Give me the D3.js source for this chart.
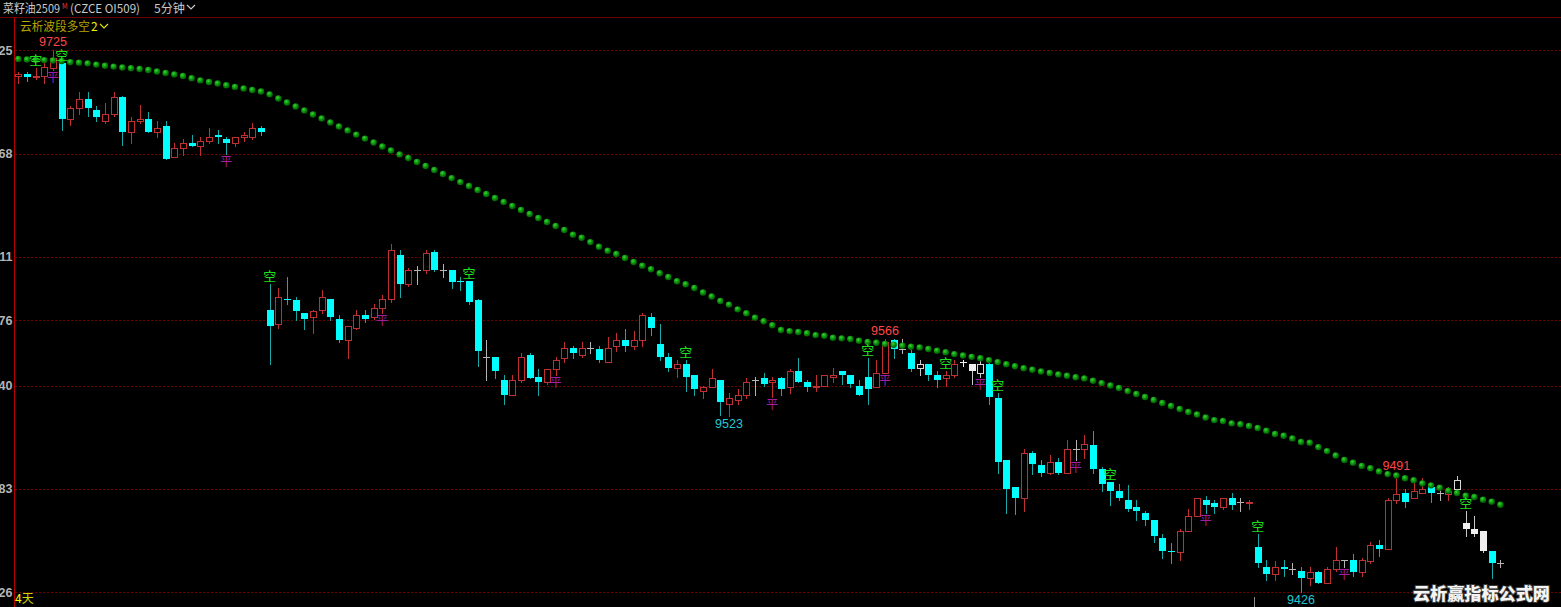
<!DOCTYPE html>
<html><head><meta charset="utf-8">
<script src="https://cdn.jsdelivr.net/npm/d3@7"></script>
<style>html,body{margin:0;padding:0;background:#000;overflow:hidden}</style>
</head><body>
<svg id="c" width="1561" height="607"></svg>
<script>
// ---- data ----
const openP = [9711,9712,9710,9711,9715,9718,9687,9693,9698,9692,9686,9690,9699,9680,9686,9687,9680,9683,9666,9671,9674,9672,9675,9678,9676,9674,9677,9677,9682,
9582,9574,9588,9587,9580,9578,9582,9588,9577,9565,9572,9579,9578,9583,9588,9612,9596,9604,9604,9614,9604,9604,9598,9598,9587,9556,9556,9543,9535,9543,9557,
9545,9542,9549,9555,9561,9557,9561,9560,9553,9562,9565,9562,9565,9578,9563,9556,9550,9552,9546,9537,9539,9543,9530,9532,9535,9543,9544,9542,9544,9539,
9548,9542,9539,9540,9545,9548,9546,9540,9545,9539,9547,9565,9560,9558,9550,9552,9546,9544,9546,9553,9552,9547,9552,9533,9499,9484,9478,9503,9496,9492,
9498,9492,9505,9505,9507,9494,9487,9482,9477,9473,9470,9466,9456,9449,9448,9460,9468,9477,9475,9473,9478,9476,9475,9451,9440,9436,9440,9439,9438,9434,
9437,9431,9439,9444,9444,9437,9443,9452,9450,9477,9481,9478,9481,9484,9481,9480,9483,9464,9461,9460,9449,9442];
const highP = [9713,9713,9715,9718,9725,9718,9694,9702,9702,9694,9696,9702,9700,9688,9695,9691,9686,9686,9674,9676,9678,9677,9682,9681,9677,9677,9680,9685,9683,
9596,9594,9600,9589,9580,9582,9593,9588,9579,9573,9582,9582,9585,9590,9618,9615,9605,9606,9615,9615,9607,9604,9600,9598,9588,9565,9556,9546,9546,9558,9558,
9549,9549,9556,9564,9562,9564,9564,9562,9567,9569,9571,9570,9580,9580,9574,9558,9554,9554,9546,9540,9549,9543,9536,9538,9544,9545,9547,9545,9545,9549,
9555,9543,9546,9546,9550,9548,9546,9543,9555,9554,9566,9566,9566,9560,9554,9552,9548,9548,9554,9554,9552,9554,9553,9536,9499,9484,9505,9504,9499,9502,
9500,9510,9510,9513,9515,9495,9487,9486,9485,9477,9471,9466,9458,9453,9461,9472,9478,9479,9477,9478,9481,9478,9477,9458,9444,9443,9444,9442,9440,9440,
9438,9440,9451,9444,9447,9445,9454,9455,9478,9491,9483,9489,9489,9486,9483,9484,9490,9471,9468,9460,9449,9444];
const lowP = [9707,9708,9709,9707,9714,9681,9684,9690,9689,9686,9685,9689,9673,9674,9685,9680,9677,9665,9666,9667,9672,9667,9674,9674,9668,9672,9675,9676,9678,
9552,9572,9585,9576,9571,9569,9580,9576,9564,9555,9571,9575,9577,9580,9586,9589,9595,9596,9602,9603,9600,9594,9593,9585,9551,9543,9544,9530,9535,9542,9544,
9535,9541,9546,9553,9555,9556,9558,9553,9553,9559,9559,9560,9562,9568,9554,9548,9545,9537,9535,9533,9539,9524,9523,9530,9533,9535,9540,9534,9535,9536,
9542,9537,9537,9540,9542,9541,9539,9535,9530,9539,9547,9555,9558,9548,9546,9543,9539,9540,9545,9551,9541,9545,9530,9492,9470,9469,9471,9491,9490,9491,
9491,9492,9499,9500,9492,9482,9474,9477,9471,9466,9463,9454,9445,9442,9444,9460,9468,9470,9470,9472,9472,9471,9472,9440,9433,9433,9435,9436,9426,9430,
9431,9431,9438,9440,9435,9435,9442,9446,9450,9475,9473,9478,9481,9476,9477,9477,9480,9457,9457,9448,9434,9440];
const closeP = [9712,9710,9711,9716,9721,9687,9693,9698,9693,9688,9690,9699,9680,9686,9687,9680,9682,9665,9671,9674,9672,9675,9677,9677,9674,9677,9678,9682,9680,
9573,9589,9587,9581,9577,9581,9589,9578,9565,9573,9579,9577,9583,9588,9615,9596,9604,9604,9613,9604,9604,9597,9597,9586,9559,9556,9548,9535,9543,9556,9544,
9542,9549,9554,9561,9558,9561,9561,9554,9561,9565,9562,9565,9579,9572,9556,9550,9552,9545,9538,9539,9544,9531,9533,9535,9542,9543,9541,9543,9538,9548,
9542,9539,9540,9546,9546,9546,9541,9535,9538,9547,9564,9560,9560,9549,9552,9546,9543,9546,9552,9553,9548,9552,9534,9498,9483,9478,9503,9497,9492,9498,
9492,9505,9505,9508,9494,9486,9482,9478,9472,9471,9466,9457,9449,9448,9460,9468,9478,9474,9473,9478,9474,9476,9476,9442,9436,9440,9439,9439,9434,9437,
9431,9439,9444,9444,9437,9444,9452,9450,9477,9480,9476,9482,9483,9481,9481,9482,9488,9461,9458,9449,9442,9442];
// wave line (green dots), one value per bar
const waveP = [9720.2,9719.9,9719.6,9719.6,9719.4,9719.1,9718.5,9718.2,9717.8,9717.1,9716.5,9716.0,9715.5,9715.1,9714.7,9714.1,9713.3,9712.5,9711.7,9710.8,
9709.6,9708.4,9707.5,9706.7,9705.7,9704.8,9703.9,9703.1,9702.3,9700.7,
9698.4,9696.2,9694.0,9691.8,9689.6,9687.4,9685.2,9683.0,9680.8,9678.5,9676.3,9674.1,9671.9,9669.7,9667.5,9665.6,9663.4,9661.2,9659.0,9656.8,
9654.5,9652.3,9650.1,9647.9,9645.7,9643.5,9641.3,9639.1,9636.9,9634.7,9632.5,9630.3,9628.1,9625.9,
9623.3,9621.6,9619.2,9616.6,9614.4,9612.6,9610.4,9608.2,9606.2,9604.2,9602.0,9599.9,9597.6,9595.9,9593.9,
9591.4,9589.2,9586.7,9584.7,9582.1,9579.9,9577.5,9575.5,9573.3,9570.7,
9570.1,9569.6,9568.9,9567.9,9567.5,9566.4,9566.1,9565.7,9564.8,9564.1,9563.7,9563.0,9562.6,9562.0,9561.5,9561.1,9560.2,9559.3,9558.4,9557.4,
9556.6,9555.9,9555.1,9554.1,9553.0,9551.8,9550.7,9549.6,9548.8,9547.8,9547.0,9546.2,9545.5,9544.6,9544.0,9542.7,
9541.4,9540.1,9538.7,9537.0,9535.4,9533.7,9532.1,9530.4,9528.8,9527.1,9525.5,9524.1,9522.4,9521.0,9520.5,9519.2,9518.7,9517.7,9516.6,9515.1,
9513.3,9512.4,9510.9,9508.9,9508.5,9506.1,9503.9,9501.5,
9499.0,9497.5,9495.7,9494.4,9492.7,9491.2,9490.5,9488.9,9487.8,9486.1,9485.0,9483.7,9482.0,9480.8,9479.3,9478.6,9477.1,9476.0,9474.3];
const whiteBars = [104,109,110,111,166,167,168,169];
const kongBars = [2,5,29,52,77,98,107,113,126,143,167];   // 空 signals (above bar)
const pingBars = [4,24,42,62,87,100,111,122,137,153];     // 平 signals (below bar)
const peakBars = [4,100,159];   // labelled highs
const troughBars = [82,148];    // labelled lows
const tickVals = [9725,9668,9611,9576,9540,9483,9426];
const titleName = "菜籽油2509", titleCode = "(CZCE OI509)", titlePeriod = "5分钟";
const indName = "云析波段多空", indNum = "2";
const dayText = "4天", watermark = "云析赢指标公式网";

// ---- drawing ----
const W = 1561, H = 607;
const svg = d3.select('#c');
svg.append('rect').attr('width', W).attr('height', H).attr('fill', '#000');

const n = openP.length;
const x = d3.scaleLinear().domain([0, n - 1]).range([18.3, 18.3 + (n - 1) * 8.667]);
const y = d3.scaleLinear().domain([9426, 9725]).range([592.3, 50.3]);

// grid lines
svg.append('g').selectAll('line').data(tickVals).join('line')
  .attr('x1', 15).attr('x2', W)
  .attr('y1', d => Math.round(y(d)) + 0.5).attr('y2', d => Math.round(y(d)) + 0.5)
  .attr('stroke', '#700000').attr('stroke-dasharray', '2,2');

// axis labels (clipped at left edge like the reference)
const ax = svg.append('g').attr('transform', 'translate(12.5,0)')
  .call(d3.axisLeft(y).tickValues(tickVals).tickFormat(d3.format('d')).tickSize(0).tickPadding(0));
ax.select('.domain').remove();
ax.selectAll('text').attr('fill', '#b4b4b4').attr('font-size', 12.5).attr('font-weight', 'bold')
  .attr('font-family', 'Liberation Sans, Arial, sans-serif');

// frame lines
svg.append('line').attr('x1', 0).attr('x2', W).attr('y1', 17.5).attr('y2', 17.5).attr('stroke', '#6a0000');
svg.append('line').attr('x1', 14.5).attr('x2', 14.5).attr('y1', 17).attr('y2', H).attr('stroke', '#b40000');

// candles
const bars = d3.range(n).map(i => ({i, o: openP[i], h: highP[i], l: lowP[i], c: closeP[i], white: whiteBars.includes(i)}));
const UP = '#c03030', DN = '#00ffff', DNW = '#18a8a8', DOJI = '#b4b4b4', WH = '#f0f0f0';
const cg = svg.append('g');
bars.forEach(b => {
  const cx = Math.round(x(b.i));
  const yo = Math.round(y(b.o)), yc = Math.round(y(b.c));
  const yh = Math.round(y(b.h)), yl = Math.round(y(b.l));
  let wickCol, kind;
  if (b.o === b.c) kind = 'doji'; else if (b.c > b.o) kind = 'up'; else kind = 'down';
  if (b.white) wickCol = kind === 'doji' ? WH : '#c8c8c8';
  else wickCol = kind === 'up' ? UP : kind === 'down' ? DNW : DOJI;
  cg.append('line').attr('x1', cx + 0.5).attr('x2', cx + 0.5).attr('y1', yh).attr('y2', yl + 1)
    .attr('stroke', wickCol);
  if (kind === 'doji') {
    cg.append('line').attr('x1', cx - 3).attr('x2', cx + 4).attr('y1', yo + 0.5).attr('y2', yo + 0.5)
      .attr('stroke', b.white ? WH : DOJI);
  } else if (kind === 'up') {
    cg.append('rect').attr('x', cx - 2.5).attr('y', yc + 0.5).attr('width', 6)
      .attr('height', Math.max(1, yo - yc)).attr('fill', '#000')
      .attr('stroke', b.white ? '#d8d8d8' : UP);
  } else {
    cg.append('rect').attr('x', cx - 3).attr('y', yo).attr('width', 7)
      .attr('height', Math.max(1, yc - yo)).attr('fill', b.white ? WH : DN);
  }
});

// green dots
const defs = svg.append('defs');
const grad = defs.append('radialGradient').attr('id', 'ball').attr('cx', '40%').attr('cy', '35%').attr('r', '65%');
grad.append('stop').attr('offset', '0%').attr('stop-color', '#3ed43e');
grad.append('stop').attr('offset', '50%').attr('stop-color', '#0c960c');
grad.append('stop').attr('offset', '100%').attr('stop-color', '#035a03');
svg.append('g').selectAll('circle').data(waveP).join('circle')
  .attr('cx', (d, i) => x(i)).attr('cy', d => y(d)).attr('r', 3.2).attr('fill', 'url(#ball)');

// signals
const cjk = '"Noto Sans CJK SC", sans-serif';
svg.append('g').selectAll('text').data(kongBars).join('text')
  .attr('x', i => x(i)).attr('y', i => y(highP[i]) - 3).attr('text-anchor', 'middle')
  .attr('font-size', 13).attr('font-family', cjk).attr('fill', '#1ee01e').text('空');
svg.append('g').selectAll('text').data(pingBars).join('text')
  .attr('x', i => x(i)).attr('y', i => y(lowP[i]) + 12).attr('text-anchor', 'middle')
  .attr('font-size', 12).attr('font-family', cjk).attr('fill', '#a01ea0').text('平');

// extreme labels
const numFont = 'Liberation Sans, Arial, sans-serif';
svg.append('g').selectAll('text').data(peakBars).join('text')
  .attr('x', i => x(i)).attr('y', i => y(highP[i]) - 4).attr('text-anchor', 'middle')
  .attr('font-size', 12.5).attr('font-family', numFont).attr('fill', '#ff4646').text(i => highP[i]);
svg.append('g').selectAll('text').data(troughBars).join('text')
  .attr('x', i => x(i)).attr('y', i => y(lowP[i]) + 12).attr('text-anchor', 'middle')
  .attr('font-size', 12.5).attr('font-family', numFont).attr('fill', '#1ec8d2').text(i => lowP[i]);

// header
const hdr = svg.append('g').attr('font-family', cjk).attr('font-size', 12);
hdr.append('text').attr('x', 3).attr('y', 13).attr('fill', '#c8c8c8').attr('textLength', 57).attr('lengthAdjust', 'spacingAndGlyphs').text(titleName);
hdr.append('text').attr('x', 62).attr('y', 9).attr('fill', '#ff3030').attr('font-size', 7).text('M');
hdr.append('text').attr('x', 70).attr('y', 13).attr('fill', '#c8c8c8').attr('textLength', 70).attr('lengthAdjust', 'spacingAndGlyphs').text(titleCode);
hdr.append('text').attr('x', 154).attr('y', 13).attr('fill', '#c8c8c8').attr('textLength', 31).attr('lengthAdjust', 'spacingAndGlyphs').text(titlePeriod);
hdr.append('polyline').attr('points', '187,5 191,9 195,5').attr('fill', 'none').attr('stroke', '#c8c8c8').attr('stroke-width', 1.2);
hdr.append('text').attr('x', 20).attr('y', 31).attr('fill', '#b4a400').attr('textLength', 70).attr('lengthAdjust', 'spacingAndGlyphs').text(indName);
hdr.append('text').attr('x', 91).attr('y', 31).attr('fill', '#f0f000').text(indNum);
hdr.append('polyline').attr('points', '100,24 104,28 108,24').attr('fill', 'none').attr('stroke', '#e0e000').attr('stroke-width', 1.2);

// bottom texts
svg.append('text').attr('x', 15).attr('y', 603).attr('font-family', cjk).attr('font-size', 12)
  .call(t => { t.append('tspan').attr('fill', '#ffff00').text(dayText[0]); t.append('tspan').attr('fill', '#d2d200').text(dayText.slice(1)); });
svg.append('line').attr('x1', 1254.5).attr('x2', 1254.5).attr('y1', 597).attr('y2', H).attr('stroke', '#8c8c8c');
svg.append('text').attr('x', 1413).attr('y', 600).attr('font-family', cjk).attr('font-size', 17).attr('font-weight', 900)
  .attr('textLength', 137).attr('lengthAdjust', 'spacingAndGlyphs')
  .attr('fill', '#f4f4f4').attr('stroke', '#3a3a3a').attr('stroke-width', 2).attr('paint-order', 'stroke').text(watermark);
</script>
</body></html>
